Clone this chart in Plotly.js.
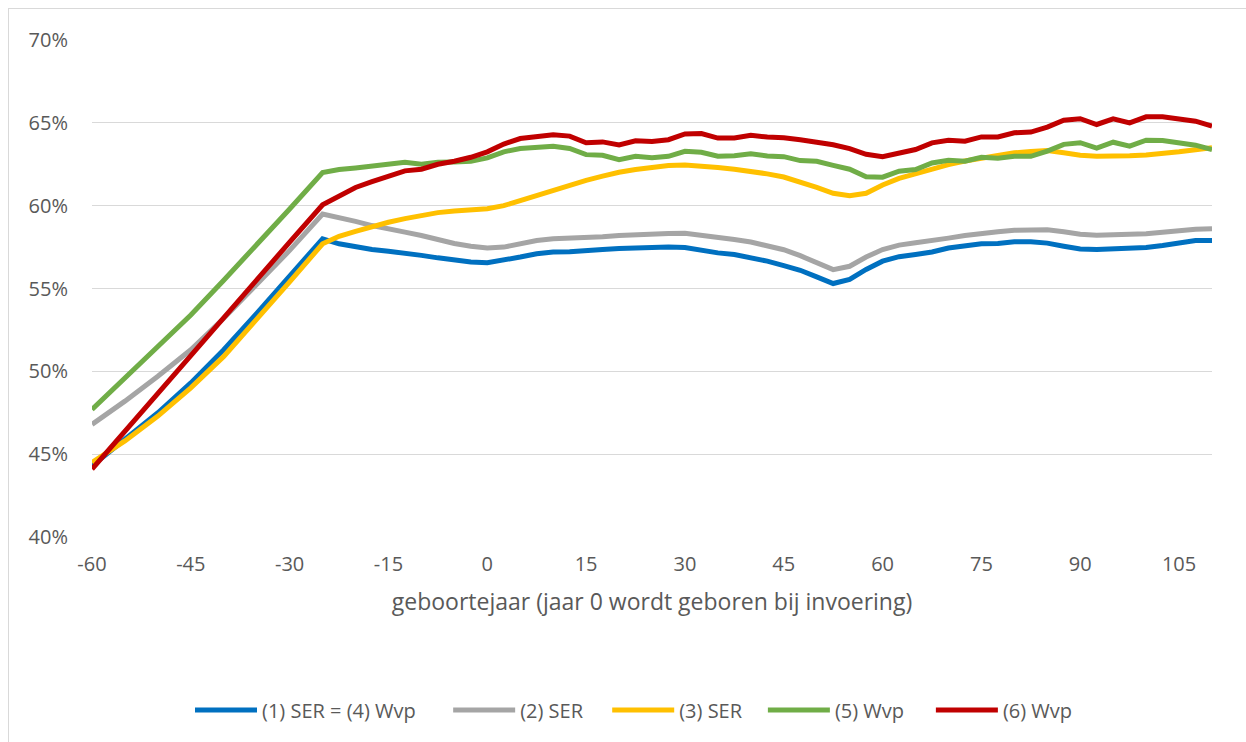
<!DOCTYPE html>
<html>
<head>
<meta charset="utf-8">
<script src="https://cdn.plot.ly/plotly-3.0.1.min.js"></script>
<style>
  html, body { margin: 0; padding: 0; background: #ffffff; overflow: hidden; }
  #chart { width: 1246px; height: 742px; position: absolute; left: 0; top: 0; }
  #frame { position: absolute; left: 8px; top: 8px; width: 1400px; height: 900px;
           border: 1px solid #D9D9D9; pointer-events: none; }
</style>
</head>
<body>
<div id="chart"></div>
<div id="frame"></div>
<script>
// Birth year relative to introduction (year 0)
const years = [-60, -55, -50, -45, -40, -35, -30, -25,
  -22.5, -20, -17.5, -15, -12.5, -10, -7.5, -5, -2.5, 0, 2.5, 5, 7.5, 10, 12.5, 15, 17.5, 20,
  22.5, 25, 27.5, 30, 32.5, 35, 37.5, 40, 42.5, 45, 47.5, 50, 52.5, 55, 57.5, 60, 62.5, 65,
  67.5, 70, 72.5, 75, 77.5, 80, 82.5, 85, 87.5, 90, 92.5, 95, 97.5, 100, 102.5, 105, 107.5, 110];

// (1) SER = (4) Wvp  (percent)
const ser1 = [44.3, 45.9, 47.5, 49.3, 51.3, 53.5, 55.8, 58.0,
  57.7, 57.5, 57.35, 57.25, 57.15, 57.0, 56.85, 56.7, 56.6, 56.55, 56.7, 56.9, 57.1, 57.2, 57.22, 57.25, 57.35, 57.42,
  57.47, 57.5, 57.5, 57.48, 57.3, 57.15, 57.05, 56.88, 56.65, 56.38, 56.1, 55.7, 55.3, 55.55, 56.15, 56.65, 56.92, 57.05,
  57.2, 57.44, 57.6, 57.7, 57.72, 57.82, 57.82, 57.74, 57.55, 57.38, 57.36, 57.4, 57.44, 57.48, 57.6, 57.78, 57.9, 57.9];

// (2) SER
const ser2 = [46.8, 48.2, 49.7, 51.3, 53.2, 55.2, 57.3, 59.5,
  59.3, 59.05, 58.8, 58.57, 58.4, 58.2, 57.95, 57.72, 57.55, 57.44, 57.5, 57.72, 57.9, 58.0, 58.02, 58.05, 58.12, 58.2,
  58.26, 58.29, 58.32, 58.33, 58.22, 58.09, 57.96, 57.81, 57.6, 57.34, 56.98, 56.54, 56.14, 56.34, 56.9, 57.35, 57.62, 57.76,
  57.88, 58.04, 58.2, 58.35, 58.43, 58.51, 58.55, 58.55, 58.42, 58.27, 58.22, 58.23, 58.27, 58.31, 58.4, 58.51, 58.58, 58.6];

// (3) SER
const ser3 = [44.5, 45.8, 47.3, 49.0, 50.9, 53.1, 55.4, 57.7,
  58.15, 58.45, 58.75, 59.0, 59.22, 59.42, 59.58, 59.68, 59.75, 59.82, 60.0, 60.3, 60.65, 60.97, 61.27, 61.53, 61.78, 62.02,
  62.18, 62.3, 62.42, 62.46, 62.4, 62.3, 62.2, 62.07, 61.92, 61.73, 61.45, 61.1, 60.75, 60.6, 60.75, 61.25, 61.65, 61.94,
  62.22, 62.48, 62.7, 62.88, 63.05, 63.19, 63.27, 63.33, 63.2, 63.05, 62.99, 62.98, 63.02, 63.06, 63.14, 63.25, 63.38, 63.49];

// (5) Wvp
const wvp5 = [47.7, 49.6, 51.5, 53.4, 55.5, 57.6, 59.8, 62.0,
  62.18, 62.28, 62.38, 62.48, 62.62, 62.5, 62.62, 62.64, 62.68, 62.88, 63.25, 63.45, 63.55, 63.59, 63.45, 63.08, 63.04, 62.78,
  62.98, 62.9, 62.98, 63.28, 63.22, 62.98, 63.02, 63.14, 63.0, 62.96, 62.72, 62.68, 62.43, 62.2, 61.75, 61.72, 62.08, 62.18,
  62.58, 62.74, 62.68, 62.92, 62.86, 62.98, 62.98, 63.29, 63.7, 63.8, 63.47, 63.83, 63.59, 63.95, 63.93, 63.79, 63.65, 63.39];

// (6) Wvp
const wvp6 = [44.1, 46.4, 48.7, 50.95, 53.2, 55.5, 57.8, 60.05,
  60.6, 61.1, 61.45, 61.75, 62.1, 62.2, 62.5, 62.68, 62.92, 63.25, 63.72, 64.05, 64.15, 64.28, 64.2, 63.8, 63.85, 63.66,
  63.92, 63.88, 63.98, 64.33, 64.35, 64.08, 64.08, 64.25, 64.14, 64.1, 63.98, 63.84, 63.68, 63.44, 63.1, 62.95, 63.2, 63.39,
  63.79, 63.95, 63.89, 64.15, 64.15, 64.4, 64.44, 64.74, 65.16, 65.25, 64.9, 65.24, 65.0, 65.36, 65.36, 65.2, 65.1, 64.8];

const xTicks = [-60, -45, -30, -15, 0, 15, 30, 45, 60, 75, 90, 105];
const yTicks = [40, 45, 50, 55, 60, 65, 70];
const yTickText = yTicks.map(v => v + '%');

const seriesNames = ['(1) SER = (4) Wvp', '(2) SER', '(3) SER', '(5) Wvp', '(6) Wvp'];
const seriesValues = [ser1, ser2, ser3, wvp5, wvp6];
const seriesColors = ['#0070C0', '#A5A5A5', '#FFC000', '#70AD47', '#C00000'];
const legendIds = ['legend', 'legend2', 'legend3', 'legend4', 'legend5'];
const legendX = [0.0875, 0.318, 0.460, 0.599, 0.749];

const traces = seriesNames.map((name, i) => ({
  x: years,
  y: seriesValues[i],
  name: name,
  legend: legendIds[i],
  type: 'scatter',
  mode: 'lines',
  line: { color: seriesColors[i], width: 5, shape: 'linear' },
  hoverinfo: 'skip'
}));

const font = '"Open Sans", "Noto Sans", sans-serif';

const layout = {
  width: 1246,
  height: 742,
  margin: { l: 92, r: 34, t: 40, b: 205 },
  paper_bgcolor: '#ffffff',
  plot_bgcolor: '#ffffff',
  showlegend: true,
  font: { family: font, color: '#595959', size: 20 },
  xaxis: {
    range: [-60, 110],
    tickmode: 'array',
    tickvals: xTicks,
    ticktext: xTicks.map(String),
    showgrid: false,
    zeroline: false,
    showline: false,
    ticks: '',
    tickfont: { family: font, size: 20, color: '#595959' },
    ticklabelstandoff: 13,
    title: { text: 'geboortejaar (jaar 0 wordt geboren bij invoering)', font: { family: font, size: 23, color: '#595959' }, standoff: 17 },
    automargin: false,
    fixedrange: true
  },
  yaxis: {
    range: [40, 70],
    tickmode: 'array',
    tickvals: yTicks,
    ticktext: yTickText,
    showgrid: true,
    gridcolor: '#D9D9D9',
    gridwidth: 1.3,
    zeroline: false,
    showline: false,
    ticks: '',
    tickfont: { family: font, size: 20, color: '#595959' },
    ticklabelstandoff: 23,
    automargin: false,
    fixedrange: true
  }
};

legendIds.forEach((id, i) => {
  layout[id] = {
    orientation: 'h',
    x: legendX[i],
    xanchor: 'left',
    y: -0.348,
    yanchor: 'middle',
    font: { family: font, size: 20, color: '#595959' },
    itemwidth: 62,
    bgcolor: 'rgba(0,0,0,0)'
  };
});

Plotly.newPlot('chart', traces, layout, { displayModeBar: false, staticPlot: true });
</script>
</body>
</html>
